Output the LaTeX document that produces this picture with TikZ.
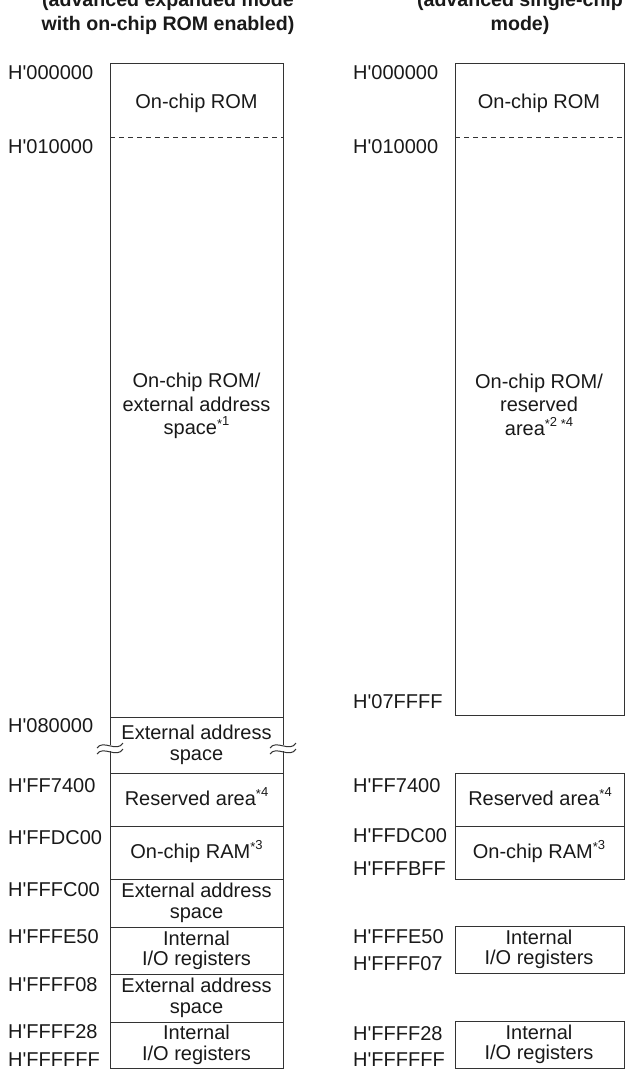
\documentclass[tikz,border=0pt]{standalone}
\usepackage{fontspec}
\setmainfont{Liberation Sans}
\newcommand\hwnote[1]{\raisebox{9pt}{\fontsize{13}{13}\selectfont #1}}
\newcommand\hwstar{\raisebox{-2.5pt}{*}}
\newcommand\hq{\textquotesingle}

\begin{document}
\begin{tikzpicture}[x=1pt, y=-1pt,
    every node/.style={inner sep=0pt, text=black!90, font=\fontsize{20}{20.5}\selectfont},
    addr/.style={anchor=west},
    cell/.style={align=center},
    bigcell/.style={align=center, font=\fontsize{20}{23.5}\selectfont},
    head/.style={align=center, font=\bfseries\fontsize{19.6}{24}\selectfont},
    wall/.style={line width=1pt, draw=black!80}]
    \useasboundingbox (0,0) rectangle (625,1069);

    % titles
    \node[head] (headA) at (168,13) {(advanced expanded mode\\with on-chip ROM enabled)};
    \node[head] (headB) at (520,13) {(advanced single-chip\\mode)};

    % expanded mode map
    \draw[wall] (110,63) rectangle (283,1068);
    \draw[wall, dash pattern=on 5pt off 4pt] (110,137) -- (283,137);
    \draw[wall] (110,717) -- (283,717);
    \draw[wall] (110,773) -- (283,773);
    \draw[wall] (110,826) -- (283,826);
    \draw[wall] (110,879) -- (283,879);
    \draw[wall] (110,927) -- (283,927);
    \draw[wall] (110,974) -- (283,974);
    \draw[wall] (110,1022) -- (283,1022);

    % break marks
    \fill[white] (105,745) rectangle (115,751);
    \fill[white] (278,745) rectangle (288,751);
    \draw[wall] (97,748) .. controls (103,739) and (117,753) .. (123,743);
    \draw[wall] (97,754) .. controls (103,745) and (117,759) .. (123,749);
    \draw[wall] (270,748) .. controls (276,739) and (290,753) .. (296,743);
    \draw[wall] (270,754) .. controls (276,745) and (290,759) .. (296,749);

    \node[addr] (a000000) at (8,73) {H\hq000000};
    \node[addr] (a010000) at (8,147) {H\hq010000};
    \node[addr] (a080000) at (8,726) {H\hq080000};
    \node[addr] (aFF7400) at (8,786) {H\hq FF7400};
    \node[addr] (aFFDC00) at (8,838) {H\hq FFDC00};
    \node[addr] (aFFFC00) at (8,890) {H\hq FFFC00};
    \node[addr] (aFFFE50) at (8,937) {H\hq FFFE50};
    \node[addr] (aFFFF08) at (8,985) {H\hq FFFF08};
    \node[addr] (aFFFF28) at (8,1032) {H\hq FFFF28};
    \node[addr] (aFFFFFF) at (8,1060) {H\hq FFFFFF};

    \node[anchor=base] (romA) at (196.5,108) {On-chip ROM};
    \node[bigcell] (mainA) at (196.5,406) {On-chip ROM/\\external address\\space\hwnote{\hwstar 1}};
    \node[cell] (extA) at (196.5,745) {External address\\space};
    \node[anchor=base] (resA) at (196.5,805) {Reserved area\hwnote{\hwstar 4}};
    \node[anchor=base] (ramA) at (196.5,858) {On-chip RAM\hwnote{\hwstar 3}};
    \node[cell] (extB) at (196.5,903) {External address\\space};
    \node[cell] (ioA) at (196.5,950.5) {Internal\\I/O registers};
    \node[cell] (extC) at (196.5,998) {External address\\space};
    \node[cell] (ioB) at (196.5,1045) {Internal\\I/O registers};

    % single-chip mode map
    \draw[wall] (455,63) rectangle (624.5,715);
    \draw[wall, dash pattern=on 5pt off 4pt] (455,137) -- (624.5,137);
    \draw[wall] (455,773) rectangle (624.5,879);
    \draw[wall] (455,826) -- (624.5,826);
    \draw[wall] (455,926) rectangle (624.5,973);
    \draw[wall] (455,1021) rectangle (624.5,1068);

    \node[addr] (b000000) at (353,73) {H\hq000000};
    \node[addr] (b010000) at (353,147) {H\hq010000};
    \node[addr] (b07FFFF) at (353,702) {H\hq07FFFF};
    \node[addr] (bFF7400) at (353,786) {H\hq FF7400};
    \node[addr] (bFFDC00) at (353,836) {H\hq FFDC00};
    \node[addr] (bFFFBFF) at (353,869) {H\hq FFFBFF};
    \node[addr] (bFFFE50) at (353,937) {H\hq FFFE50};
    \node[addr] (bFFFF07) at (353,964) {H\hq FFFF07};
    \node[addr] (bFFFF28) at (353,1034) {H\hq FFFF28};
    \node[addr] (bFFFFFF) at (353,1060) {H\hq FFFFFF};

    \node[anchor=base] (romB) at (539,108) {On-chip ROM};
    \node[bigcell] (mainB) at (539,404.5) {On-chip ROM/\\reserved\\area\hwnote{\hwstar 2 \hwstar 4}};
    \node[anchor=base] (resB) at (540,805) {Reserved area\hwnote{\hwstar 4}};
    \node[anchor=base] (ramB) at (539,858) {On-chip RAM\hwnote{\hwstar 3}};
    \node[cell] (ioC) at (539,949.5) {Internal\\I/O registers};
    \node[cell] (ioD) at (539,1044.5) {Internal\\I/O registers};
\end{tikzpicture}
\end{document}
